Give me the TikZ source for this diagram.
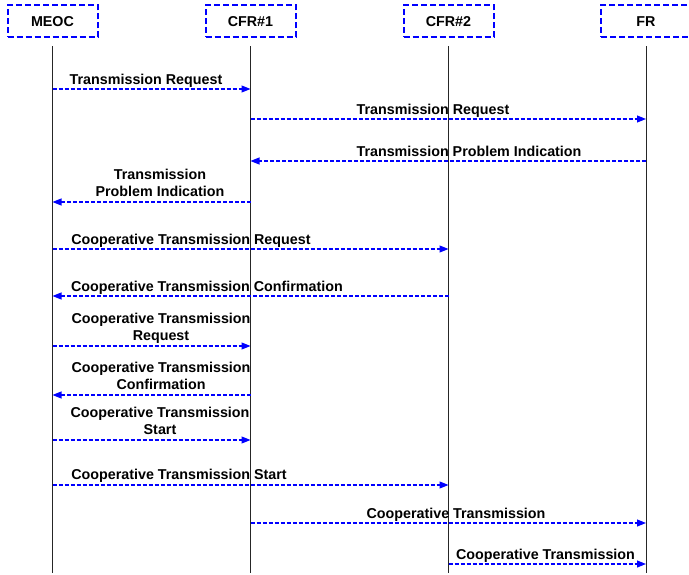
\documentclass[tikz,border=0pt]{standalone}
\usepackage{fontspec}
\setmainfont{Liberation Sans}
\usetikzlibrary{arrows.meta,positioning}

\tikzset{
  party/.style={draw=blue,line width=2pt,dash pattern=on 6pt off 3pt,minimum width=90pt,minimum height=32pt,inner sep=0pt},
  life/.style={draw=black!85,line width=0.9pt},
  msg/.style={draw=blue,line width=1.1pt,dash pattern=on 4pt off 2pt,-{Triangle[length=9pt,width=7pt]}},
  lbl/.style={anchor=south,inner sep=0pt,text depth=0pt,align=center}
}

\begin{document}
\begin{tikzpicture}[x=1pt,y=-1pt,every node/.style={font=\fontsize{14.3}{17}\selectfont\bfseries}]
\useasboundingbox (0,0) rectangle (689,575);
% parties
\node[party] (meoc) at (52.5,21.5) {MEOC};
\node[party] (cfra) at (250.5,21.5) {CFR\#1};
\node[party] (cfrb) at (448.5,21.5) {CFR\#2};
\node[party] (fr) at (646,21.5) {FR};
% lifelines
\foreach \e in {meoc,cfra,cfrb,fr}
  \draw[life] ([yshift=-8pt]\e.south) -- (\e |- 0,573);
% messages
\draw[msg] (meoc |- 0,89) -- (cfra |- 0,89);
\node[lbl] (t1) at (146,85) {Transmission Request};
\draw[msg] (cfra |- 0,119) -- (fr |- 0,119);
\node[lbl] (t2) at (433,115) {Transmission Request};
\draw[msg] (fr |- 0,161) -- (cfra |- 0,161);
\node[lbl] (t3) at (469,157) {Transmission Problem Indication};
\draw[msg] (cfra |- 0,202) -- (meoc |- 0,202);
\node[lbl] (t4) at (160,197) {Transmission\\Problem Indication};
\draw[msg] (meoc |- 0,249) -- (cfrb |- 0,249);
\node[lbl] (t5) at (191,245) {Cooperative Transmission Request};
\draw[msg] (cfrb |- 0,296) -- (meoc |- 0,296);
\node[lbl] (t6) at (207,292) {Cooperative Transmission Confirmation};
\draw[msg] (meoc |- 0,346) -- (cfra |- 0,346);
\node[lbl] (t7) at (161,341) {Cooperative Transmission\\Request};
\draw[msg] (cfra |- 0,395) -- (meoc |- 0,395);
\node[lbl] (t8) at (161,390) {Cooperative Transmission\\Confirmation};
\draw[msg] (meoc |- 0,440) -- (cfra |- 0,440);
\node[lbl] (t9) at (160,435) {Cooperative Transmission\\Start};
\draw[msg] (meoc |- 0,485) -- (cfrb |- 0,485);
\node[lbl] (t10) at (179,480) {Cooperative Transmission Start};
\draw[msg] (cfra |- 0,523) -- (fr |- 0,523);
\node[lbl] (t11) at (456,519) {Cooperative Transmission};
\draw[msg] (cfrb |- 0,564) -- (fr |- 0,564);
\node[lbl] (t12) at (545.5,560) {Cooperative Transmission};
\end{tikzpicture}
\end{document}
